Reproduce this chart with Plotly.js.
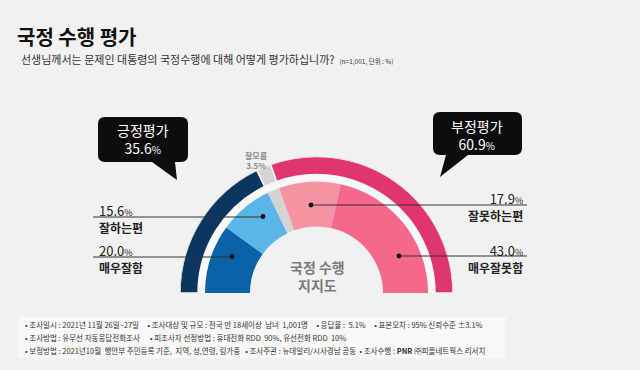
<!DOCTYPE html>
<html>
<head>
<meta charset="utf-8">
<script src="https://cdn.plot.ly/plotly-3.0.1.min.js"></script>
<style>html,body{margin:0;padding:0;background:#f1f1f1;overflow:hidden}#chart{width:640px;height:370px}</style>
</head>
<body>
<div id="chart"></div>
<script>
// ---- data ----
const outerLabels = ['긍정평가', '잘모름', '부정평가'];
const outerValues = [35.6, 3.5, 60.9];
const innerLabels = ['매우잘함', '잘하는편', '잘모름', '잘못하는편', '매우잘못함'];
const innerValues = [20.0, 15.6, 3.5, 17.9, 43.0];
const titleText = '국정 수행 평가';
const questionText = '선생님께서는 문제인 대통령의 국정수행에 대해 어떻게 평가하십니까?';
const noteText = '(n=1,001, 단위 : %)';
const centerText = ['국정 수행', '지지도'];
const footerLines = [
  '• 조사일시 : 2021년 11월 26일~27일     • 조사대상 및 규모 : 전국 만 18세이상  남녀  1,001명     • 응답율 :  5.1%     • 표본오차 : 95% 신뢰수준 ±3.1%',
  '• 조사방법 : 유무선 자동응답전화조사      • 피조사자 선정방법 : 휴대전화 RDD  90%, 유선전화 RDD  10%',
  '• 보정방법 : 2021년10월  행안부 주민등록 기준,  지역, 성,연령, 림가중   • 조사주관 : 뉴데일리/시사경남 공동  • 조사수행 : <b>PNR</b> ㈜피플네트웍스 리서치'
];

// ---- styles ----
const FONT = '"Noto Sans CJK KR", "Noto Sans", sans-serif';
const outerColors = ['#0c3560', '#d4d4d4', '#e0356f'];
const innerColors = ['#0a63a7', '#5bb5e8', '#d4d4d4', '#f693a3', '#f4698a'];
const W = 640, H = 370;
const X = p => p / W;
const Y = p => 1 - p / H;

function ring(values, colors, labels, r0, r1, line) {
  const total = values.reduce((a, b) => a + b, 0);
  let cum = 0;
  const theta = [], width = [];
  values.forEach(v => {
    const w = v / total * 180;
    theta.push(cum + w / 2);
    width.push(w);
    cum += w;
  });
  return {
    type: 'barpolar', theta: theta, width: width,
    base: values.map(() => r0), r: values.map(() => r1 - r0),
    text: labels, hoverinfo: 'text',
    marker: {color: colors, line: line || {width: 0}},
    showlegend: false
  };
}

const traces = [
  ring(outerValues, outerColors, outerLabels, 118.5, 136.5, {width: 1.5, color: '#f3f3f3'}),
  ring([100], ['#f8f8f8'], [''], 111.5, 118.5),
  ring(innerValues, innerColors, innerLabels, 66.5, 111.5)
];

function bubble(x0, y0, x1, y1, r, tail) {
  const p = (x, y) => X(x).toFixed(5) + ',' + Y(y).toFixed(5);
  let d = 'M' + p(x0 + r, y0) + ' L' + p(x1 - r, y0) + ' Q' + p(x1, y0) + ' ' + p(x1, y0 + r) +
    ' L' + p(x1, y1 - r) + ' Q' + p(x1, y1) + ' ' + p(x1 - r, y1) +
    ' L' + p(tail[1], y1) + ' L' + p(tail[2], tail[3]) + ' L' + p(tail[0], y1) +
    ' L' + p(x0 + r, y1) + ' Q' + p(x0, y1) + ' ' + p(x0, y1 - r) +
    ' L' + p(x0, y0 + r) + ' Q' + p(x0, y0) + ' ' + p(x0 + r, y0) + ' Z';
  return {type: 'path', xref: 'paper', yref: 'paper', path: d, fillcolor: '#0d0d0d', line: {width: 0}};
}
function hline(x0, x1, y) {
  return {type: 'line', xref: 'paper', yref: 'paper', x0: X(x0), x1: X(x1), y0: Y(y), y1: Y(y), line: {color: '#333', width: 1}};
}
function dot(x, y) {
  const r = 2.4;
  return {type: 'circle', xref: 'paper', yref: 'paper', x0: X(x - r), x1: X(x + r), y0: Y(y + r), y1: Y(y - r), fillcolor: '#111', line: {width: 0}};
}

const shapes = [
  {type: 'rect', xref: 'paper', yref: 'paper', x0: X(18), x1: X(506), y0: Y(358), y1: Y(317), fillcolor: '#f8f8f8', line: {width: 0}},
  bubble(98, 117, 188, 162, 7, [152, 175, 177, 180]),
  bubble(433, 112, 522, 155, 7, [446, 468, 440, 177]),
  hline(93, 263, 217), dot(263, 216.5),
  hline(93, 232, 257), dot(232, 256.5),
  hline(311, 527, 205), dot(311, 205),
  hline(399, 527, 256), dot(399, 256)
];

function ann(text, x, y, opts) {
  return Object.assign({
    text: text, xref: 'paper', yref: 'paper', x: X(x), y: Y(y),
    showarrow: false, xanchor: 'left', yanchor: 'middle', borderpad: 0,
    font: {family: FONT, size: 12, color: '#222'}
  }, opts || {});
}
const pct = (v, s) => v.toFixed(1) + '<span style="font-size:' + s + 'px">%</span>';
const pair = (v, name) => pct(v, 9) + '<br><b><span style="font-size:12px">' + name + '</span></b>';

const annotations = [
  ann('<b>' + titleText + '</b>', 16, 36, {font: {family: FONT, size: 20, color: '#111'}}),
  ann(questionText + '  <span style="font-size:6.5px">' + noteText + '</span>', 20, 59, {font: {family: FONT, size: 11, color: '#333'}}),
  // bubbles
  ann(outerLabels[0] + '<br>' + pct(outerValues[0], 10), 143, 139, {xanchor: 'center', align: 'center', font: {family: FONT, size: 14, color: '#fff'}}),
  ann(outerLabels[2] + '<br>' + pct(outerValues[2], 10), 477, 135, {xanchor: 'center', align: 'center', font: {family: FONT, size: 14, color: '#fff'}}),
  // dont know
  ann('<b>' + outerLabels[1] + '<br>' + pct(outerValues[1], 8) + '</b>', 256, 160, {xanchor: 'center', align: 'center', font: {family: FONT, size: 8, color: '#888'}}),
  // left labels
  ann(pair(innerValues[1], innerLabels[1]), 98, 218.5, {align: 'left', font: {family: FONT, size: 13, color: '#222'}}),
  ann(pair(innerValues[0], innerLabels[0]), 98, 258, {align: 'left', font: {family: FONT, size: 13, color: '#222'}}),
  // right labels
  ann(pair(innerValues[3], innerLabels[3]), 524, 206, {xanchor: 'right', align: 'right', font: {family: FONT, size: 13, color: '#222'}}),
  ann(pair(innerValues[4], innerLabels[4]), 524, 258, {xanchor: 'right', align: 'right', font: {family: FONT, size: 13, color: '#222'}}),
  // center
  ann('<b>' + centerText[0] + '<br>' + centerText[1] + '</b>', 317, 276, {xanchor: 'center', align: 'center', font: {family: FONT, size: 14, color: '#7a7a7a'}})
];
footerLines.forEach((t, i) => annotations.push(ann(t, 24, 324 + i * 13, {font: {family: FONT, size: 7.5, color: '#333'}})));

const layout = {
  width: W, height: H,
  margin: {l: 0, r: 0, t: 0, b: 0},
  paper_bgcolor: '#f1f1f1', plot_bgcolor: '#f1f1f1',
  showlegend: false,
  polar: {
    domain: {x: [X(180), X(453)], y: [Y(293), Y(156.5)]},
    sector: [0, 180], hole: 0, bgcolor: 'rgba(0,0,0,0)', barmode: 'overlay',
    radialaxis: {range: [0, 136.5], visible: false, showgrid: false},
    angularaxis: {visible: false, showgrid: false, rotation: 180, direction: 'clockwise', thetaunit: 'degrees'}
  },
  shapes: shapes,
  annotations: annotations
};

Plotly.newPlot('chart', traces, layout, {displayModeBar: false, staticPlot: true});
</script>
</body>
</html>
